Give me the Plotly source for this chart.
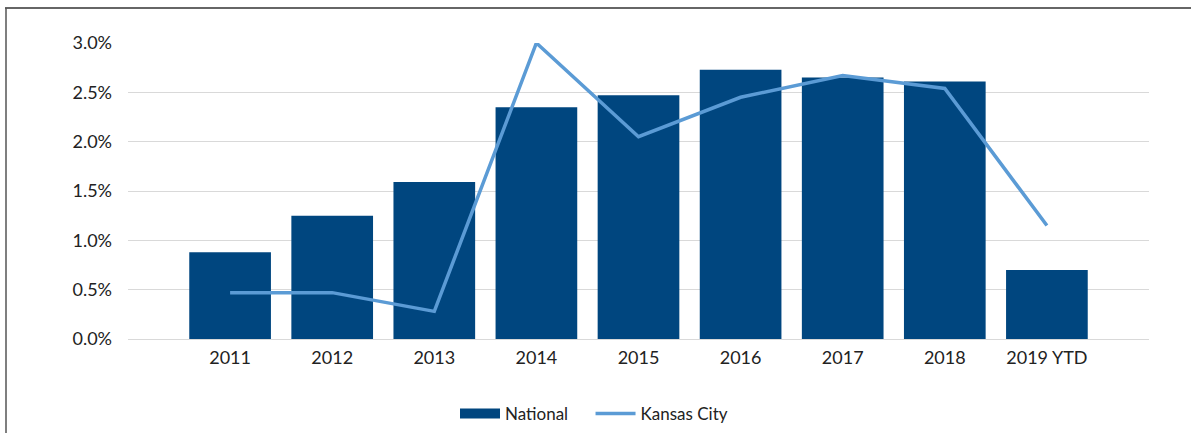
import plotly.graph_objects as go

categories = ["2011", "2012", "2013", "2014", "2015", "2016", "2017", "2018", "2019 YTD"]
national = [0.88, 1.25, 1.59, 2.35, 2.47, 2.73, 2.65, 2.61, 0.70]
kansas_city = [0.47, 0.47, 0.28, 3.00, 2.05, 2.45, 2.67, 2.54, 1.15]
y_ticks = [0.0, 0.5, 1.0, 1.5, 2.0, 2.5, 3.0]
y_tick_labels = ["0.0%", "0.5%", "1.0%", "1.5%", "2.0%", "2.5%", "3.0%"]

W, H = 1191, 433
ml, mr, mt, mb = 128, 42, 43, 94
pw = W - ml - mr
ph = H - mt - mb

BAR = "#00467F"
LINE = "#5B9BD5"

fig = go.Figure()
fig.add_trace(go.Bar(x=categories, y=national, name="National", showlegend=False,
                     marker=dict(color=BAR, line=dict(width=0))))
# legend entry for bars drawn as a wide block
fig.add_trace(go.Scatter(x=[None], y=[None], name="National" + "\u00a0" * 4, mode="lines",
                         line=dict(color=BAR, width=16), hoverinfo="skip"))
fig.add_trace(go.Scatter(x=categories, y=kansas_city, name="Kansas City", mode="lines",
                         line=dict(color=LINE, width=3.5)))

def px_x(p):
    return (p - ml) / pw

def px_y(p):
    return (H - mb - p) / ph

fig.update_layout(
    width=W, height=H,
    margin=dict(l=ml, r=mr, t=mt, b=mb, autoexpand=False),
    paper_bgcolor="white", plot_bgcolor="white",
    font=dict(family="Lato, Noto Sans, sans-serif", size=18, color="#222"),
    bargap=0.2,
    showlegend=True,
    legend=dict(orientation="h", x=px_x(594), xanchor="center", y=px_y(414), yanchor="middle",
                font=dict(size=17, color="#222"), traceorder="normal", itemwidth=40),
    xaxis=dict(range=[-1, 9], showgrid=False, showline=False, ticks="",
               tickfont=dict(size=18), ticklabelstandoff=6),
    yaxis=dict(range=[0, 3.0], tickvals=y_ticks, ticktext=y_tick_labels,
               showgrid=True, gridcolor="#D9D9D9", gridwidth=1, zeroline=True,
               zerolinecolor="#D9D9D9", zerolinewidth=1, showline=False,
               ticklabelstandoff=15, tickfont=dict(size=18)),
    shapes=[
        dict(type="line", xref="paper", yref="paper", x0=px_x(5), x1=px_x(1191),
             y0=px_y(8), y1=px_y(8), line=dict(color="#333333", width=1.5)),
        dict(type="line", xref="paper", yref="paper", x0=px_x(6), x1=px_x(6),
             y0=px_y(8), y1=px_y(433), line=dict(color="#555555", width=1.5)),
    ],
)

fig.write_html("out.html", config={"displayModeBar": False},
               post_script="document.body.style.margin='0';")
